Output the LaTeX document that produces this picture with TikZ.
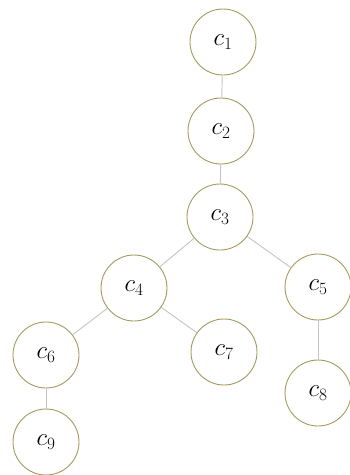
\documentclass[tikz,border=0pt]{standalone}
\definecolor{nodeborder}{RGB}{165,155,95}
\definecolor{edgegray}{RGB}{195,195,195}
\tikzset{
  cnode/.style={circle, draw=nodeborder, line width=0.9pt, fill=white, minimum size=66pt, inner sep=0pt, font=\fontsize{27}{29}\selectfont},
  cedge/.style={draw=edgegray, line width=0.9pt}
}
\begin{document}
\begin{tikzpicture}[x=1pt,y=-1pt]
\useasboundingbox (0,0) rectangle (349,475);
\node[cnode] (c1) at (223,42) {$c_1$};
\node[cnode] (c2) at (221,131) {$c_2$};
\node[cnode] (c3) at (220,217) {$c_3$};
\node[cnode] (c4) at (134,288) {$c_4$};
\node[cnode] (c5) at (318,287) {$c_5$};
\node[cnode] (c6) at (46,355) {$c_6$};
\node[cnode] (c7) at (224,352) {$c_7$};
\node[cnode] (c8) at (318,393) {$c_8$};
\node[cnode] (c9) at (46,442) {$c_9$};
\draw[cedge] (c1) -- (c2);
\draw[cedge] (c2) -- (c3);
\draw[cedge] (c3) -- (c4);
\draw[cedge] (c3) -- (c5);
\draw[cedge] (c4) -- (c6);
\draw[cedge] (c4) -- (c7);
\draw[cedge] (c5) -- (c8);
\draw[cedge] (c6) -- (c9);
\end{tikzpicture}
\end{document}
